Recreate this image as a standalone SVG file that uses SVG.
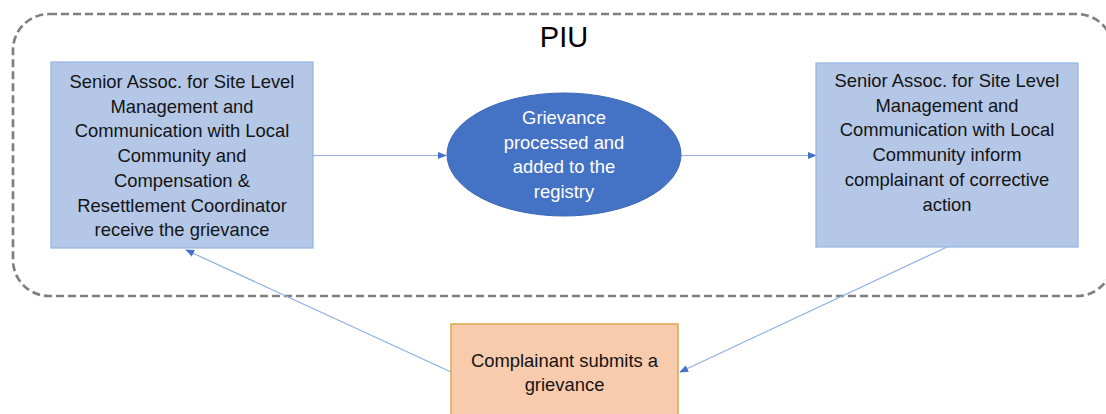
<svg xmlns="http://www.w3.org/2000/svg" width="1106" height="414" viewBox="0 0 1106 414">
  <defs>
    <style>
      .t { font-family: "Liberation Sans", Arial, sans-serif; font-size: 18.4px; fill: #141414; text-anchor: middle; }
      .w { fill: #ffffff; }
      .box { fill: #b4c7e7; stroke: #8fb4e3; stroke-width: 1.2; }
      .conn { stroke: #8fb0e0; stroke-width: 1.2; fill: none; marker-end: url(#arr); }
    </style>
    <marker id="arr" viewBox="0 0 10 10" refX="9" refY="5" markerWidth="9" markerHeight="9" markerUnits="userSpaceOnUse" orient="auto">
      <path d="M0,1 L10,5 L0,9 Z" fill="#4472c4"/>
    </marker>
  </defs>
  <rect width="1106" height="414" fill="#ffffff"/>

  <g id="piu">
    <rect x="13" y="14" width="1100" height="282" rx="36" ry="36" fill="none" stroke="#7f7f7f" stroke-width="2.7" stroke-dasharray="8 4"/>
    <text x="564" y="47" font-family="Liberation Sans, Arial, sans-serif" font-size="29" fill="#000" text-anchor="middle">PIU</text>
  </g>

  <g id="connectors">
    <line class="conn" x1="313" y1="155.5" x2="446" y2="155.5"/>
    <line class="conn" x1="681" y1="155.5" x2="816" y2="155.5"/>
    <line class="conn" x1="451" y1="372" x2="186" y2="250"/>
    <line class="conn" x1="947" y1="247" x2="680" y2="372"/>
  </g>

  <g id="receive">
    <rect class="box" x="51" y="62" width="262" height="186"/>
    <text class="t" x="182" y="88">Senior Assoc. for Site Level</text>
    <text class="t" x="182" y="112.7">Management and</text>
    <text class="t" x="182" y="137.4">Communication with Local</text>
    <text class="t" x="182" y="162.1">Community and</text>
    <text class="t" x="182" y="186.8">Compensation &amp;</text>
    <text class="t" x="182" y="211.5">Resettlement Coordinator</text>
    <text class="t" x="182" y="236.2">receive the grievance</text>
  </g>

  <g id="processed">
    <ellipse cx="564" cy="154.5" rx="117" ry="61.5" fill="#4472c4" stroke="#3b67b5" stroke-width="1"/>
    <text class="t w" x="564" y="124">Grievance</text>
    <text class="t w" x="564" y="148.7">processed and</text>
    <text class="t w" x="564" y="173.4">added to the</text>
    <text class="t w" x="564" y="198.1">registry</text>
  </g>

  <g id="inform">
    <rect class="box" x="816" y="63" width="262" height="184"/>
    <text class="t" x="947" y="87">Senior Assoc. for Site Level</text>
    <text class="t" x="947" y="111.7">Management and</text>
    <text class="t" x="947" y="136.4">Communication with Local</text>
    <text class="t" x="947" y="161.1">Community inform</text>
    <text class="t" x="947" y="185.8">complainant of corrective</text>
    <text class="t" x="947" y="210.5">action</text>
  </g>

  <g id="complainant">
    <rect x="451" y="324" width="227" height="100" fill="#f8cbad" stroke="#d9a84e" stroke-width="1.5"/>
    <text class="t" x="564.5" y="367">Complainant submits a</text>
    <text class="t" x="564.5" y="391">grievance</text>
  </g>
</svg>
